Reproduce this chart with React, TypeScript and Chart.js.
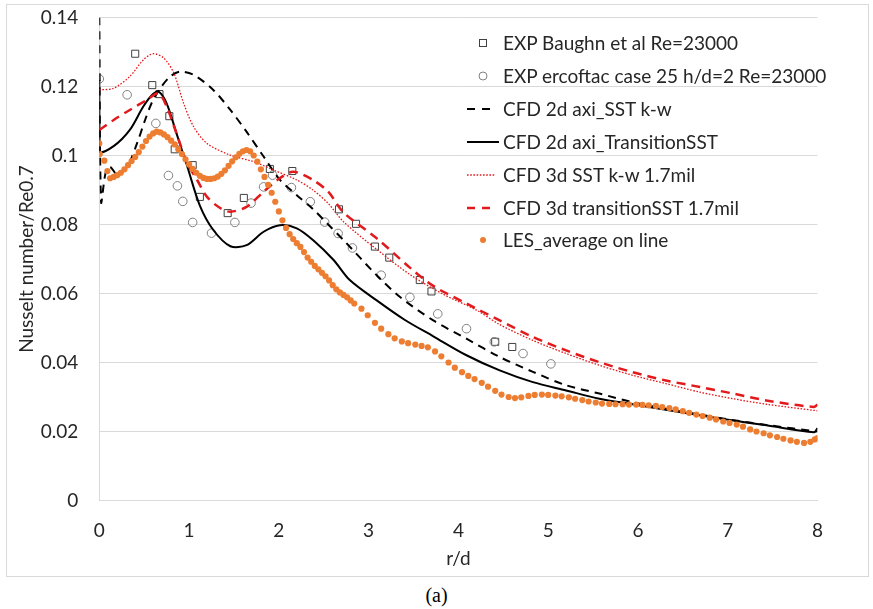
import React, { useEffect, useRef } from "react";
import { Chart, registerables } from "chart.js";

Chart.register(...registerables);

// ---------- data ----------
const seriesLabels = [
  "EXP Baughn et al Re=23000",
  "EXP ercoftac case 25 h/d=2 Re=23000",
  "CFD 2d axi_SST k-w",
  "CFD 2d axi_TransitionSST",
  "CFD 3d SST k-w 1.7mil",
  "CFD 3d transitionSST 1.7mil",
  "LES_average on line",
];

const xTickValues = [0, 1, 2, 3, 4, 5, 6, 7, 8];
const xTickLabels = ["0", "1", "2", "3", "4", "5", "6", "7", "8"];
const yTickValues = [0, 0.02, 0.04, 0.06, 0.08, 0.1, 0.12, 0.14];
const yTickLabels = ["0", "0.02", "0.04", "0.06", "0.08", "0.1", "0.12", "0.14"];

const baughnX = [0.40, 0.59, 0.67, 0.78, 0.84, 1.04, 1.12, 1.43, 1.61, 1.90, 2.15, 2.67, 2.86, 3.07, 3.23, 3.57, 3.70, 4.41, 4.60];
const baughnY = [0.1295, 0.1204, 0.1178, 0.1114, 0.1018, 0.0972, 0.0880, 0.0833, 0.0877, 0.0961, 0.0955, 0.0844, 0.0802, 0.0736, 0.0704, 0.0639, 0.0606, 0.0460, 0.0445];

const ercoftacX = [0.0, 0.31, 0.63, 0.77, 0.87, 0.93, 1.04, 1.25, 1.51, 1.69, 1.83, 1.93, 2.14, 2.35, 2.51, 2.66, 2.82, 3.14, 3.46, 3.77, 4.09, 4.40, 4.72, 5.03];
const ercoftacY = [0.1222, 0.1176, 0.1093, 0.0942, 0.0912, 0.0867, 0.0806, 0.0775, 0.0806, 0.0862, 0.0909, 0.0943, 0.0907, 0.0866, 0.0807, 0.0774, 0.0732, 0.0653, 0.0589, 0.0541, 0.0498, 0.0460, 0.0426, 0.0396];

const sst2dX = [0, 0.02, 0.07, 0.12, 0.2, 0.31, 0.42, 0.51, 0.59, 0.68, 0.79, 0.9, 1.05, 1.27, 1.46, 1.64, 1.83, 2.01, 2.2, 2.38, 2.55, 2.72, 3.09, 3.35, 3.72, 4.09, 4.46, 4.83, 5.2, 5.57, 5.94, 6.31, 6.69, 7.06, 7.43, 8.0];
const sst2dY = [0.140, 0.0865, 0.0949, 0.0967, 0.0945, 0.0967, 0.1035, 0.1103, 0.1156, 0.1195, 0.1229, 0.1243, 0.1234, 0.1190, 0.1132, 0.1069, 0.0997, 0.0930, 0.0885, 0.0845, 0.0800, 0.0755, 0.0653, 0.0590, 0.0522, 0.0469, 0.0416, 0.0373, 0.0334, 0.0310, 0.0285, 0.0266, 0.0249, 0.0233, 0.0219, 0.0200];

const trans2dX = [0, 0.005, 0.16, 0.34, 0.49, 0.59, 0.66, 0.75, 0.86, 0.98, 1.12, 1.27, 1.46, 1.64, 1.83, 2.01, 2.2, 2.38, 2.61, 2.79, 3.09, 3.4, 3.72, 4.09, 4.46, 4.83, 5.2, 5.57, 5.94, 6.31, 6.69, 7.06, 7.43, 7.96, 8.0];
const trans2dY = [0.1219, 0.1012, 0.1027, 0.1074, 0.1142, 0.1176, 0.1185, 0.1151, 0.1064, 0.0968, 0.0855, 0.0784, 0.0737, 0.0740, 0.0779, 0.0798, 0.0789, 0.0755, 0.0697, 0.0639, 0.0580, 0.0524, 0.0476, 0.0421, 0.0377, 0.0343, 0.0319, 0.0295, 0.0279, 0.0263, 0.0247, 0.0232, 0.0218, 0.0198, 0.0210];

const sst3dX = [0, 0.16, 0.34, 0.49, 0.60, 0.72, 0.83, 0.94, 1.05, 1.2, 1.46, 1.72, 1.94, 2.2, 2.38, 2.55, 2.72, 3.09, 3.46, 3.83, 4.2, 4.46, 4.83, 5.2, 5.57, 5.94, 6.31, 6.69, 7.06, 7.43, 8.0];
const sst3dY = [0.119, 0.1195, 0.1229, 0.1277, 0.1295, 0.1282, 0.1239, 0.1151, 0.1084, 0.1035, 0.1001, 0.0982, 0.0958, 0.0929, 0.0900, 0.0861, 0.0808, 0.0728, 0.0655, 0.0598, 0.0552, 0.0510, 0.0464, 0.0426, 0.0392, 0.0363, 0.0339, 0.0314, 0.0295, 0.0279, 0.0260];

const trans3dX = [0, 0.16, 0.34, 0.53, 0.66, 0.75, 0.86, 0.98, 1.09, 1.2, 1.35, 1.46, 1.64, 1.83, 2.01, 2.16, 2.38, 2.55, 2.72, 3.09, 3.46, 3.72, 4.09, 4.46, 4.83, 5.2, 5.57, 5.94, 6.31, 6.69, 7.06, 7.43, 7.96, 8.0];
const trans3dY = [0.1074, 0.1103, 0.1132, 0.1161, 0.1180, 0.1142, 0.1064, 0.0977, 0.0929, 0.0880, 0.0847, 0.0837, 0.0851, 0.0895, 0.0934, 0.0953, 0.0929, 0.0895, 0.0835, 0.0760, 0.0675, 0.0622, 0.0571, 0.0522, 0.0474, 0.0435, 0.0401, 0.0372, 0.0348, 0.0329, 0.0310, 0.0290, 0.0271, 0.0278];

const lesX = [
  0, 0.005, 0.056, 0.09,
  0.12, 0.16, 0.20, 0.24, 0.28, 0.32, 0.36, 0.40, 0.44, 0.48, 0.52, 0.56, 0.60, 0.64, 0.68, 0.72,
  0.76, 0.80, 0.84, 0.88, 0.92, 0.96, 1.00, 1.04, 1.08, 1.12, 1.16, 1.20, 1.24, 1.28, 1.32, 1.36,
  1.40, 1.44, 1.48, 1.52, 1.56, 1.60, 1.64, 1.68, 1.72, 1.76, 1.80, 1.84, 1.88, 1.92, 1.96, 2.00,
  2.04, 2.08, 2.12, 2.16, 2.20, 2.24, 2.28, 2.32, 2.36, 2.40, 2.44, 2.48, 2.52, 2.56, 2.60, 2.64,
  2.68, 2.72, 2.76, 2.80, 2.84,
  2.92, 2.99, 3.07, 3.14, 3.22, 3.29, 3.37, 3.44, 3.52, 3.59, 3.66, 3.74, 3.81, 3.89, 3.96, 4.04,
  4.11, 4.18, 4.26, 4.33, 4.41, 4.48, 4.56, 4.63, 4.70, 4.78, 4.85, 4.93, 5.00, 5.08, 5.15, 5.23,
  5.30, 5.38, 5.45, 5.53, 5.60, 5.68, 5.75, 5.83, 5.90, 5.98, 6.05, 6.12, 6.20, 6.27, 6.35, 6.42,
  6.50, 6.57, 6.65, 6.72, 6.80, 6.87, 6.95, 7.02, 7.10, 7.17, 7.25, 7.32, 7.40, 7.47, 7.55, 7.62,
  7.70, 7.77, 7.85, 7.92, 7.97, 8.00,
];
const lesY = [
  0.1035, 0.1004, 0.0985, 0.0955,
  0.0934, 0.0938, 0.0943, 0.0950, 0.0960, 0.0972, 0.0984, 0.0996, 0.1010, 0.1026, 0.1042, 0.1055, 0.1064, 0.1069, 0.1067, 0.1061,
  0.1053, 0.1043, 0.1032, 0.1018, 0.1004, 0.0989, 0.0974, 0.0961, 0.0950, 0.0941, 0.0935, 0.0932, 0.0932, 0.0934, 0.0939, 0.0947,
  0.0957, 0.0970, 0.0983, 0.0995, 0.1005, 0.1012, 0.1016, 0.1012, 0.1000, 0.0982, 0.0960, 0.0938, 0.0915, 0.0892, 0.0866, 0.0838,
  0.0812, 0.0790, 0.0772, 0.0758, 0.0746, 0.0735, 0.0720, 0.0704, 0.0692, 0.0680, 0.0670, 0.0660, 0.0650, 0.0638, 0.0624, 0.0612,
  0.0603, 0.0596, 0.0589, 0.0580, 0.0571,
  0.0556, 0.0537, 0.0515, 0.0498, 0.0482, 0.0470, 0.0461, 0.0456, 0.0452, 0.0448, 0.0444, 0.0432, 0.0418, 0.0400, 0.0385, 0.0372,
  0.0361, 0.0352, 0.0341, 0.0330, 0.0318, 0.0307, 0.0300, 0.0297, 0.0299, 0.0303, 0.0306, 0.0307, 0.0306, 0.0304, 0.0302, 0.0299,
  0.0295, 0.0291, 0.0287, 0.0284, 0.0281, 0.0280, 0.0279, 0.0279, 0.0278, 0.0278, 0.0277, 0.0276, 0.0274, 0.0271, 0.0268, 0.0264,
  0.0259, 0.0254, 0.0249, 0.0245, 0.0240, 0.0235, 0.0229, 0.0225, 0.0220, 0.0214, 0.0206, 0.0200, 0.0195, 0.0189, 0.0184, 0.0179,
  0.0174, 0.0170, 0.0167, 0.0170, 0.0177, 0.0181,
];

// ---------- styles ----------
const FONT = "Lato, 'Open Sans', sans-serif";
const FS = 19;
const TEXT = "#262626";
const GRID = "#d9d9d9";
const RED = "#e31a1c";
const ORANGE = "#ED7D31";

const pts = (xs: number[], ys: number[]) => xs.map((x, i) => ({ x, y: ys[i] }));

function LegendMarker({ kind }: { kind: number }) {
  const w = 36;
  const h = 14;
  const c = h / 2;
  let el: any = null;
  if (kind === 0) el = <rect x={12.5} y={c - 3.5} width={7} height={7} fill="none" stroke="#404040" strokeWidth={1} />;
  if (kind === 1) el = <circle cx={16} cy={c} r={4} fill="none" stroke="#808080" strokeWidth={1} />;
  if (kind === 2) el = <line x1={0} y1={c} x2={25} y2={c} stroke="#000" strokeWidth={2} strokeDasharray="8 7" />;
  if (kind === 3) el = <line x1={0} y1={c} x2={32} y2={c} stroke="#000" strokeWidth={2} />;
  if (kind === 4) el = <line x1={0} y1={c} x2={28} y2={c} stroke={RED} strokeWidth={1.3} strokeDasharray="1.6 1.6" />;
  if (kind === 5) el = <line x1={0} y1={c} x2={25} y2={c} stroke={RED} strokeWidth={2.5} strokeDasharray="8 7" />;
  if (kind === 6) el = <circle cx={16} cy={c} r={3} fill={ORANGE} />;
  return (
    <svg width={w} height={h} style={{ position: "absolute", left: 0, top: -h / 2 }}>
      {el}
    </svg>
  );
}

export default function App() {
  const canvasRef = useRef<HTMLCanvasElement | null>(null);

  useEffect(() => {
    document.body.style.margin = "0";
    const canvas = canvasRef.current;
    if (!canvas) return;
    const chart = new Chart(canvas, {
      type: "scatter",
      data: {
        datasets: [
          {
            label: seriesLabels[0],
            data: pts(baughnX, baughnY),
            showLine: false,
            pointStyle: "rect",
            pointRadius: 5,
            pointBorderWidth: 1,
            pointBorderColor: "#404040",
            pointBackgroundColor: "rgba(255,255,255,0)",
            order: 7,
          },
          {
            label: seriesLabels[1],
            data: pts(ercoftacX, ercoftacY),
            showLine: false,
            pointStyle: "circle",
            pointRadius: 4.3,
            pointBorderWidth: 1,
            pointBorderColor: "#808080",
            pointBackgroundColor: "rgba(255,255,255,0)",
            order: 6,
          },
          {
            label: seriesLabels[2],
            data: pts(sst2dX, sst2dY),
            showLine: true,
            borderColor: "#000",
            borderWidth: 2,
            borderDash: [8, 6],
            pointRadius: 0,
            tension: 0.3,
            order: 5,
          },
          {
            label: seriesLabels[3],
            data: pts(trans2dX, trans2dY),
            showLine: true,
            borderColor: "#000",
            borderWidth: 2,
            pointRadius: 0,
            tension: 0.3,
            order: 4,
          },
          {
            label: seriesLabels[4],
            data: pts(sst3dX, sst3dY),
            showLine: true,
            borderColor: RED,
            borderWidth: 1.3,
            borderDash: [1.6, 1.6],
            pointRadius: 0,
            tension: 0.3,
            order: 3,
          },
          {
            label: seriesLabels[5],
            data: pts(trans3dX, trans3dY),
            showLine: true,
            borderColor: RED,
            borderWidth: 2.5,
            borderDash: [9, 6],
            pointRadius: 0,
            tension: 0.3,
            order: 2,
          },
          {
            label: seriesLabels[6],
            data: pts(lesX, lesY),
            showLine: false,
            pointStyle: "circle",
            pointRadius: 3.1,
            pointBorderWidth: 0,
            pointBackgroundColor: ORANGE,
            pointBorderColor: ORANGE,
            order: 1,
          },
        ],
      },
      options: {
        responsive: false,
        devicePixelRatio: 1,
        animation: false,
        layout: { padding: { left: 0, top: 12.5, right: 50.5, bottom: 0 } },
        plugins: { legend: { display: false }, tooltip: { enabled: false } },
        scales: {
          x: {
            type: "linear",
            min: 0,
            max: 8,
            afterBuildTicks: (s: any) => {
              s.ticks = xTickValues.map((v) => ({ value: v }));
            },
            afterFit: (s: any) => {
              s.height = 75.5;
            },
            grid: { display: false, drawTicks: false },
            border: { display: true, color: GRID, width: 1 },
            ticks: {
              padding: 18.5,
              color: TEXT,
              font: { family: FONT, size: FS },
              callback: (v: any) => xTickLabels[xTickValues.indexOf(Math.round(Number(v)))] ?? "",
            },
            title: {
              display: true,
              text: "r/d",
              color: TEXT,
              font: { family: FONT, size: FS },
              padding: { top: 0, bottom: 6 },
            },
          },
          y: {
            type: "linear",
            min: 0,
            max: 0.14,
            afterBuildTicks: (s: any) => {
              s.ticks = yTickValues.map((v) => ({ value: v }));
            },
            afterFit: (s: any) => {
              s.width = 92.3;
            },
            grid: {
              display: true,
              color: GRID,
              lineWidth: 1,
              drawTicks: true,
              tickLength: 21,
              tickColor: "rgba(0,0,0,0)",
            },
            border: { display: true, color: GRID, width: 1 },
            ticks: {
              padding: 0,
              color: TEXT,
              font: { family: FONT, size: FS },
              callback: (v: any) => yTickLabels[Math.round(Number(v) / 0.02)] ?? "",
            },
            title: {
              display: true,
              text: "Nusselt number/Re0.7",
              color: TEXT,
              font: { family: FONT, size: FS },
              padding: { top: 8, bottom: 0 },
            },
          },
        },
      },
    } as any);
    return () => chart.destroy();
  }, []);

  const rowY = [43, 76, 109, 142, 175, 208, 240];

  return (
    <div style={{ position: "relative", width: 873, height: 609, background: "#fff", overflow: "hidden" }}>
      <div
        style={{
          position: "absolute",
          left: 6,
          top: 4,
          width: 863,
          height: 573,
          border: `1px solid ${GRID}`,
          boxSizing: "border-box",
        }}
      />
      <canvas
        ref={canvasRef}
        width={861}
        height={571}
        style={{ position: "absolute", left: 7, top: 5, width: 861, height: 571, display: "block" }}
      />
      {seriesLabels.map((lab, i) => (
        <div key={lab} style={{ position: "absolute", left: 467, top: rowY[i], height: 0 }}>
          <LegendMarker kind={i} />
          <div
            style={{
              position: "absolute",
              left: 36,
              top: -12,
              height: 24,
              lineHeight: "24px",
              whiteSpace: "nowrap",
              fontFamily: FONT,
              fontSize: FS,
              color: TEXT,
            }}
          >
            {lab}
          </div>
        </div>
      ))}
      <div
        style={{
          position: "absolute",
          left: 0,
          width: 873,
          top: 583,
          textAlign: "center",
          fontFamily: "'Liberation Serif', 'Times New Roman', serif",
          fontSize: 20,
          lineHeight: "24px",
          color: "#000",
        }}
      >
        (a)
      </div>
    </div>
  );
}
